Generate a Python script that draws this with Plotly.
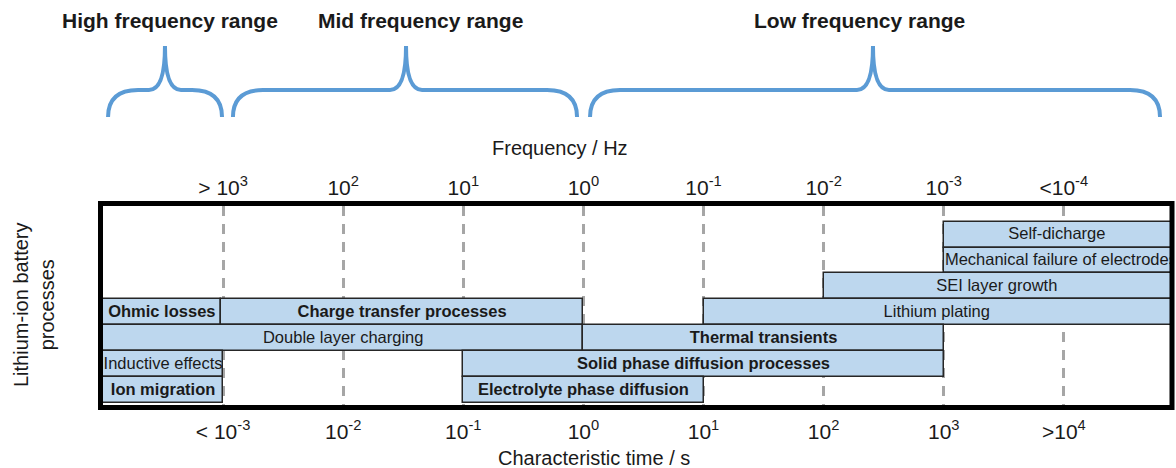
import plotly.graph_objects as go

# ---------------- data ----------------
processes = ["Self-dicharge", "Mechanical failure of electrodes", "SEI layer growth",
             "Lithium plating", "Ohmic losses", "Charge transfer processes",
             "Double layer charging", "Thermal transients",
             "Inductive effects", "Solid phase diffusion processes",
             "Ion migration", "Electrolyte phase diffusion"]
rows = [6, 5, 4, 3, 3, 3, 2, 2, 1, 1, 0, 0]
log_t_start = [3.0, 3.0, 2.0, 1.0, -4.0, -3.02, -4.0, 0.0, -4.0, -1.0, -4.0, -1.0]
log_t_end = [5.0, 5.0, 5.0, 5.0, -3.02, 0.0, 0.0, 3.0, -3.0, 3.0, -3.0, 1.0]
bold_processes = ["Ohmic losses", "Charge transfer processes", "Thermal transients",
                  "Solid phase diffusion processes", "Ion migration",
                  "Electrolyte phase diffusion"]

time_ticks = [-3, -2, -1, 0, 1, 2, 3, 4]
time_labels = ["< 10<sup>-3</sup>", "10<sup>-2</sup>", "10<sup>-1</sup>", "10<sup>0</sup>",
               "10<sup>1</sup>", "10<sup>2</sup>", "10<sup>3</sup>", ">10<sup>4</sup>"]
freq_labels = ["> 10<sup>3</sup>", "10<sup>2</sup>", "10<sup>1</sup>", "10<sup>0</sup>",
               "10<sup>-1</sup>", "10<sup>-2</sup>", "10<sup>-3</sup>", "<10<sup>-4</sup>"]

range_names = ["High frequency range", "Mid frequency range", "Low frequency range"]
range_left = [-3.958, -2.918, 0.055]
range_right = [-3.009, -0.053, 4.801]
range_peak = [-3.484, -1.477, 2.411]
range_title_x = [-3.44, -1.36, 2.30]

# ---------------- layout constants ----------------
W, H = 1176, 468
ML, MR, MT, MB = 103, 6, 206, 63
XMIN, XMAX = -4.0, 4.884
YMIN, YMAX = -0.558, 7.096
PW = W - ML - MR
PH = H - MT - MB
FONT = "Liberation Sans, Arial, sans-serif"
TXT = "#1a1a1a"
BAR_FILL = "#BDD7EE"
BRACE = "#5B9BD5"


def py(pix):  # pixel row -> paper y
    return (H - MB - pix) / PH


def px(pix):  # pixel column -> paper x
    return (pix - ML) / PW


fig = go.Figure()

# bars
fig.add_trace(go.Bar(
    y=rows, x=[e - s for s, e in zip(log_t_start, log_t_end)], base=log_t_start,
    orientation="h", width=1.0,
    marker=dict(color=BAR_FILL, line=dict(color="#262626", width=1.5)),
    hovertext=processes, hoverinfo="text", showlegend=False,
))

# bar labels
cx, cy, ct, cx_r, cy_r, ct_r = [], [], [], [], [], []
for name, r, s, e in zip(processes, rows, log_t_start, log_t_end):
    label = f"<b>{name}</b>" if name in bold_processes else name
    if name.startswith("Mechanical"):
        cx_r.append(s + 0.01); cy_r.append(r); ct_r.append(label)
    else:
        cx.append((max(s, XMIN) + min(e, XMAX)) / 2); cy.append(r); ct.append(label)

fig.add_trace(go.Scatter(x=cx, y=cy, text=ct, mode="text", textposition="middle center",
                         textfont=dict(size=16.5, color=TXT, family=FONT),
                         cliponaxis=True, showlegend=False, hoverinfo="skip"))
fig.add_trace(go.Scatter(x=cx_r, y=cy_r, text=ct_r, mode="text", textposition="middle right",
                         textfont=dict(size=16.5, color=TXT, family=FONT),
                         cliponaxis=True, showlegend=False, hoverinfo="skip"))
# dummy trace for top axis
fig.add_trace(go.Scatter(x=[XMIN], y=[YMIN], xaxis="x2", mode="markers",
                         marker=dict(opacity=0), showlegend=False, hoverinfo="skip"))

shapes = []
# frame
shapes.append(dict(type="rect", xref="paper", yref="paper",
                   x0=-2.5 / PW, x1=1 + 2.0 / PW, y0=-2.5 / PH, y1=1 + 2.5 / PH,
                   line=dict(color="black", width=5), fillcolor="rgba(0,0,0,0)", layer="above"))

# braces
rc = 30 / (PW / (XMAX - XMIN))
rp = 16 / (PW / (XMAX - XMIN))
y_end, y_h, y_top = py(117), py(90), py(46)
for xl, xr, xp in zip(range_left, range_right, range_peak):
    path = (f"M {xl},{y_end} Q {xl},{y_h} {xl + rc},{y_h} "
            f"L {xp - rp},{y_h} Q {xp},{y_h} {xp},{y_top} "
            f"Q {xp},{y_h} {xp + rp},{y_h} "
            f"L {xr - rc},{y_h} Q {xr},{y_h} {xr},{y_end}")
    shapes.append(dict(type="path", xref="x", yref="paper", path=path,
                       line=dict(color=BRACE, width=4)))

annotations = []
for name, tx in zip(range_names, range_title_x):
    annotations.append(dict(x=tx, y=py(20), xref="x", yref="paper", text=f"<b>{name}</b>",
                            showarrow=False, xanchor="center", yanchor="middle",
                            font=dict(size=21, color=TXT, family=FONT)))
annotations.append(dict(x=px(34), y=py(305), xref="paper", yref="paper",
                        text="Lithium-ion battery<br>processes", textangle=-90,
                        showarrow=False, xanchor="center", yanchor="middle",
                        font=dict(size=20, color=TXT, family=FONT)))
annotations.append(dict(x=px(560), y=py(148), xref="paper", yref="paper",
                        text="Frequency / Hz", showarrow=False,
                        xanchor="center", yanchor="middle",
                        font=dict(size=20, color=TXT, family=FONT)))
annotations.append(dict(x=px(594), y=py(458), xref="paper", yref="paper",
                        text="Characteristic time / s", showarrow=False,
                        xanchor="center", yanchor="middle",
                        font=dict(size=20, color=TXT, family=FONT)))

fig.update_layout(
    width=W, height=H,
    margin=dict(l=ML, r=MR, t=MT, b=MB),
    paper_bgcolor="white", plot_bgcolor="white",
    font=dict(family=FONT, color=TXT),
    bargap=0,
    xaxis=dict(range=[XMIN, XMAX], tickvals=time_ticks, ticktext=time_labels,
               showgrid=True, gridcolor="#A6A6A6", gridwidth=2.5, griddash="10px,8px",
               zeroline=False, showline=False, ticks="",
               tickfont=dict(size=21, color=TXT, family=FONT),
               ticklabelstandoff=12, automargin=False),
    xaxis2=dict(range=[XMIN, XMAX], overlaying="x", side="top", tickvals=time_ticks,
                ticktext=freq_labels, showgrid=False, zeroline=False, showline=False, ticks="",
                tickfont=dict(size=21, color=TXT, family=FONT),
                ticklabelstandoff=6, automargin=False),
    yaxis=dict(range=[YMIN, YMAX], showticklabels=False, showgrid=False, zeroline=False,
               showline=False, ticks="", automargin=False),
    shapes=shapes, annotations=annotations,
)

fig.write_html("out.html")
